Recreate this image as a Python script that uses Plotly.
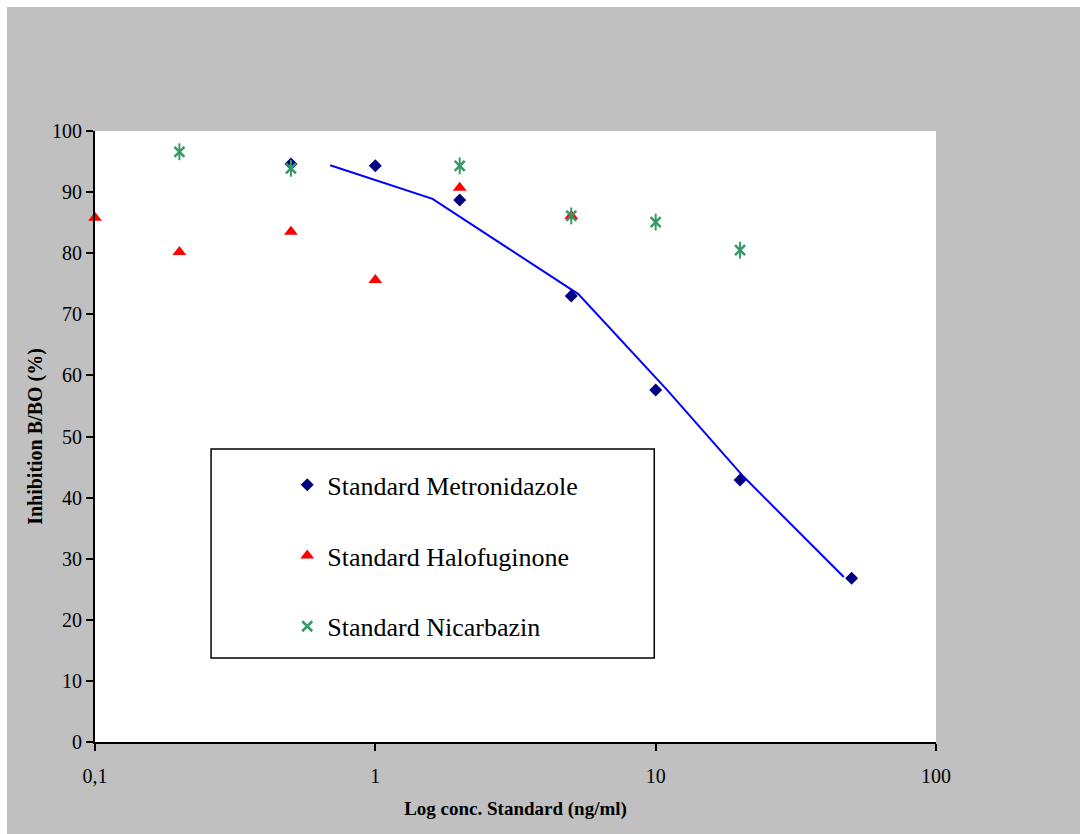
import plotly.graph_objects as go

# Data
metro_x = [0.5, 1, 2, 5, 10, 20, 50]
metro_y = [94.6, 94.3, 88.7, 73.0, 57.6, 42.9, 26.8]

halo_x = [0.1, 0.2, 0.5, 1, 2, 5]
halo_y = [85.8, 80.2, 83.5, 75.6, 90.7, 86.1]

nic_x = [0.2, 0.5, 2, 5, 10, 20]
nic_y = [96.6, 93.9, 94.3, 86.1, 85.1, 80.5]

trend_x = [0.69, 1.6, 5.3, 11.0, 20.6, 46.9]
trend_y = [94.4, 88.9, 73.3, 57.6, 43.4, 27.0]

x_tickvals = [0.1, 1, 10, 100]
x_ticktext = ["0,1", "1", "10", "100"]
y_tickvals = list(range(0, 101, 10))

FONT = "Liberation Serif, Times New Roman, serif"
GREEN = "#339966"

fig = go.Figure()

fig.add_trace(go.Scatter(
    x=trend_x, y=trend_y, mode="lines",
    line=dict(color="#0000ff", width=2),
    showlegend=False, hoverinfo="skip"))

fig.add_trace(go.Scatter(
    x=metro_x, y=metro_y, mode="markers", name="Standard Metronidazole",
    legendgroup="a",
    marker=dict(symbol="diamond", size=10, color="#000080"),
    cliponaxis=False))

fig.add_trace(go.Scatter(
    x=halo_x, y=halo_y, mode="markers", name="Standard Halofuginone",
    legendgroup="b",
    marker=dict(symbol="triangle-up", size=12, color="#ff0000"),
    cliponaxis=False))

fig.add_trace(go.Scatter(
    x=nic_x, y=nic_y, mode="markers", name="Standard Nicarbazin",
    legendgroup="c",
    marker=dict(symbol="x-thin-open", size=10, color=GREEN,
                line=dict(color=GREEN, width=2.5)),
    cliponaxis=False))

fig.add_trace(go.Scatter(
    x=nic_x, y=nic_y, mode="markers", showlegend=False,
    legendgroup="c",
    marker=dict(symbol="line-ns-open", size=12, color=GREEN,
                line=dict(color=GREEN, width=2)),
    cliponaxis=False, hoverinfo="skip"))

shapes = [
    # white strips at top and left edges of the page
    dict(type="rect", xref="paper", yref="paper", x0=-0.2, x1=1.3,
         y0=1.2029, y1=1.22, fillcolor="white", line=dict(width=0), layer="above"),
    dict(type="rect", xref="paper", yref="paper", x0=-0.12, x1=-0.1048,
         y0=-0.2, y1=1.3, fillcolor="white", line=dict(width=0), layer="above"),
    # legend box
    dict(type="rect", xref="paper", yref="paper", x0=0.138, x1=0.665,
         y0=0.1375, y1=0.4795, fillcolor="white",
         line=dict(color="black", width=1.5), layer="above"),
]

fig.update_layout(
    width=1080, height=834,
    margin=dict(l=95, r=144, t=131, b=92),
    paper_bgcolor="#c0c0c0",
    plot_bgcolor="white",
    font=dict(family=FONT, color="black", size=20),
    shapes=shapes,
    showlegend=True,
    legend=dict(
        x=0.2286, y=0.4595, xanchor="left", yanchor="top",
        bgcolor="rgba(0,0,0,0)", borderwidth=0,
        font=dict(family=FONT, size=26, color="black"),
        traceorder="grouped", tracegroupgap=34,
    ),
    xaxis=dict(
        type="log", range=[-1, 2],
        tickvals=x_tickvals, ticktext=x_ticktext,
        showgrid=False, zeroline=False,
        showline=True, linecolor="black", linewidth=2,
        ticks="outside", ticklen=7, tickwidth=1.5, tickcolor="black",
        ticklabelstandoff=8,
        tickfont=dict(family=FONT, size=20),
        title=dict(text="<b>Log conc. Standard (ng/ml)</b>",
                   font=dict(family=FONT, size=19), standoff=16),
    ),
    yaxis=dict(
        range=[0, 100], tickvals=y_tickvals,
        showgrid=False, zeroline=False,
        showline=True, linecolor="black", linewidth=2,
        ticks="outside", ticklen=7, tickwidth=1.5, tickcolor="black",
        tickfont=dict(family=FONT, size=20),
        title=dict(text="<b>Inhibition B/BO (%)</b>",
                   font=dict(family=FONT, size=20), standoff=4),
    ),
)

fig.write_html("out.html")
